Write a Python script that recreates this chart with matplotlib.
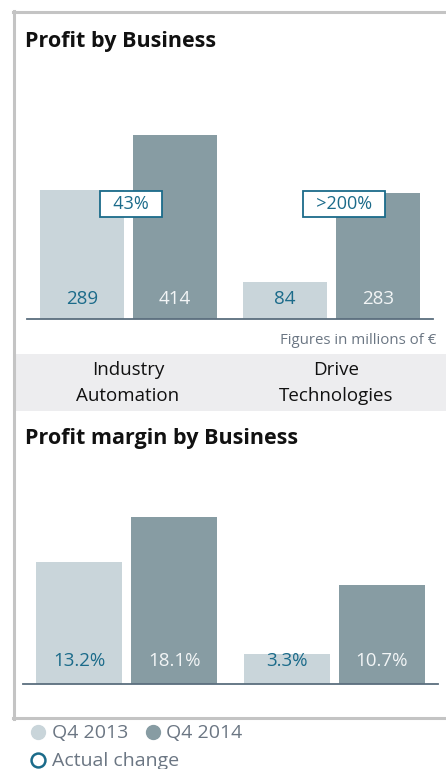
import numpy as np
import matplotlib.pyplot as plt
from matplotlib.patches import Rectangle
from matplotlib.lines import Line2D

plt.rcParams['font.family'] = ['Open Sans', 'DejaVu Sans']

# data
categories = ['Industry\nAutomation', 'Drive\nTechnologies']
profit_2013 = [289, 84]
profit_2014 = [414, 283]
change_labels = ['43%', '>200%']
margin_2013 = [13.2, 3.3]
margin_2014 = [18.1, 10.7]
series_labels = ['Q4 2013', 'Q4 2014']

light = '#c9d5da'
dark = '#879ca3'
teal = '#1b6b8a'
base_col = '#5b6e7e'
grey_txt = '#6b7683'

W, H = 446, 769
fig = plt.figure(figsize=(W / 100, H / 100), dpi=100)


def fx(px):
    return px / W


def fy(py):
    return 1 - py / H


# outer frame
border = '#c4c4c4'
fig.add_artist(Line2D([fx(14), fx(14)], [fy(11), fy(719)], color=border, lw=2.2))
fig.add_artist(Line2D([fx(13), fx(446)], [fy(12), fy(12)], color=border, lw=2.2))
fig.add_artist(Line2D([fx(13), fx(446)], [fy(718), fy(718)], color=border, lw=2.2))

# category band
fig.add_artist(Rectangle((fx(15), fy(411)), fx(446) - fx(15), fy(354) - fy(411),
                         color='#ededef', lw=0, zorder=0))

fig.text(fx(25), fy(41), 'Profit by Business', fontsize=15.5, fontweight='bold',
         va='center', ha='left', color='#111111')
fig.text(fx(25), fy(439), 'Profit margin by Business', fontsize=15.5, fontweight='bold',
         va='center', ha='left', color='#111111')

x = np.arange(len(categories))
w = 0.414
off = 0.229

# top chart
ax1 = fig.add_axes([fx(27), fy(319), fx(433) - fx(27), fy(100) - fy(319)])
ax1.bar(x - off, profit_2013, width=w, color=light)
ax1.bar(x + off, profit_2014, width=w, color=dark)
ax1.set_xlim(-0.5, 1.5)
ax1.set_ylim(0, 219 / 0.445)
for i in range(len(x)):
    ax1.text(x[i] - off, 46, str(profit_2013[i]), ha='center', va='center',
             fontsize=13.5, color=teal)
    ax1.text(x[i] + off, 46, str(profit_2014[i]), ha='center', va='center',
             fontsize=13.5, color='#f2f5f6')
    ax1.text(x[i] - 0.12, 259, '  ' + change_labels[i] + '  ', ha='left', va='center',
             fontsize=13, color=teal,
             bbox=dict(boxstyle='square,pad=0.22', fc='white', ec=teal, lw=1.3))
ax1.axis('off')
ax1.axhline(0, color=base_col, lw=1.3, clip_on=False)

fig.text(fx(436), fy(340), 'Figures in millions of €', ha='right', va='center',
         fontsize=10.8, color=grey_txt)
for cx, lab in zip([128, 336], categories):
    fig.text(fx(cx), fy(383), lab, ha='center', va='center', fontsize=13.5,
             color='#111111', linespacing=1.55)

# bottom chart
ax2 = fig.add_axes([fx(23), fy(684), fx(438) - fx(23), fy(480) - fy(684)])
ax2.bar(x - off, margin_2013, width=w, color=light)
ax2.bar(x + off, margin_2014, width=w, color=dark)
ax2.set_xlim(-0.5, 1.5)
ax2.set_ylim(0, 204 / 9.23)
for i in range(len(x)):
    ax2.text(x[i] - off, 2.5, f'{margin_2013[i]:.1f}%', ha='center', va='center',
             fontsize=13.5, color=teal)
    ax2.text(x[i] + off, 2.5, f'{margin_2014[i]:.1f}%', ha='center', va='center',
             fontsize=13.5, color='#f2f5f6')
ax2.axis('off')
ax2.axhline(0, color=base_col, lw=1.3, clip_on=False)

# legend
fig.add_artist(Line2D([fx(38)], [fy(732)], marker='o', ms=10, color=light, lw=0))
fig.text(fx(52), fy(733), series_labels[0], va='center', fontsize=14, color=grey_txt)
fig.add_artist(Line2D([fx(153)], [fy(732)], marker='o', ms=10, color=dark, lw=0))
fig.text(fx(166), fy(733), series_labels[1], va='center', fontsize=14, color=grey_txt)
fig.add_artist(Line2D([fx(38)], [fy(760)], marker='o', ms=10, mfc='white', mec=teal,
                      mew=1.8, lw=0))
fig.text(fx(52), fy(761), 'Actual change', va='center', fontsize=14, color=grey_txt)

fig.savefig('out.png', dpi=100)
